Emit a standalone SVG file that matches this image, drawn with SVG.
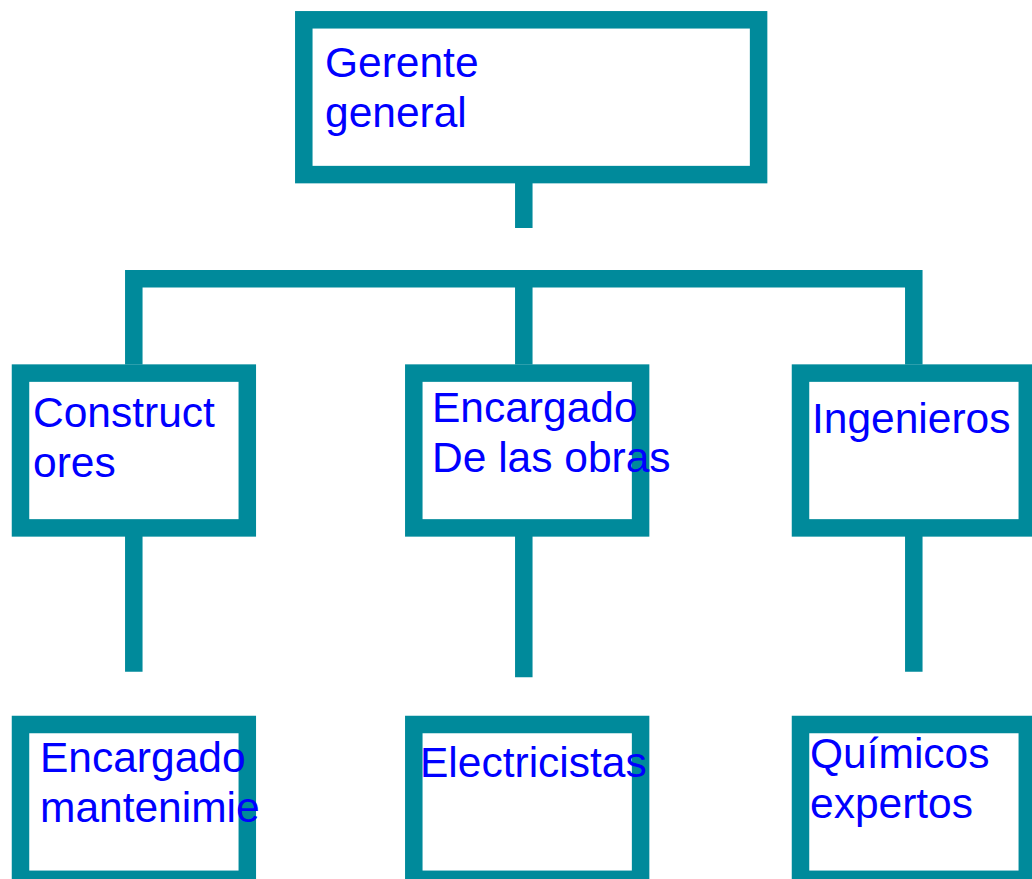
<svg xmlns="http://www.w3.org/2000/svg" width="1032" height="879" viewBox="0 0 1032 879">
<style>
.box{fill:#FFFFFF;stroke:#008A9B;stroke-width:17.5;stroke-linejoin:miter}
.ln{fill:none;stroke:#008A9B;stroke-width:17.5;stroke-linejoin:miter;stroke-linecap:butt}
.t{font-family:"Liberation Sans",Arial,sans-serif;font-size:42.5px;fill:#0000FF}
</style>
<rect x="0" y="0" width="1032" height="879" fill="#FFFFFF"/>
<g id="connectors">
<path class="ln" d="M523.8,183 V228"/>
<path class="ln" d="M133.8,364.5 V278.8 H913.8 V364.5"/>
<path class="ln" d="M523.8,278.8 V364.5"/>
<path class="ln" d="M133.8,536 V671.7"/>
<path class="ln" d="M523.8,536 V677.3"/>
<path class="ln" d="M913.8,536 V671.7"/>
</g>
<g id="gerente">
<rect class="box" x="303.8" y="19.8" width="454.8" height="154.8"/>
<text class="t" x="325" y="77">Gerente</text>
<text class="t" x="325" y="127">general</text>
</g>
<g id="constructores">
<rect class="box" x="20.5" y="373.1" width="226.8" height="154.8"/>
<text class="t" x="33" y="427">Construct</text>
<text class="t" x="33" y="477">ores</text>
</g>
<g id="encargado-obras">
<rect class="box" x="413.8" y="373.1" width="226.8" height="154.8"/>
<text class="t" x="432" y="421.5">Encargado</text>
<text class="t" x="432" y="472">De las obras</text>
</g>
<g id="ingenieros">
<rect class="box" x="800.5" y="373.1" width="226.8" height="154.8"/>
<text class="t" x="812" y="432.5">Ingenieros</text>
</g>
<g id="encargado-mantenimiento">
<rect class="box" x="20.5" y="724.5" width="226.8" height="154.8"/>
<text class="t" x="40" y="772">Encargado</text>
<text class="t" x="40" y="822">mantenimie</text>
</g>
<g id="electricistas">
<rect class="box" x="413.8" y="724.5" width="226.8" height="154.8"/>
<text class="t" x="420" y="777">Electricistas</text>
</g>
<g id="quimicos">
<rect class="box" x="800.5" y="724.5" width="226.8" height="154.8"/>
<text class="t" x="810" y="768">Químicos</text>
<text class="t" x="810" y="818">expertos</text>
</g>
</svg>
